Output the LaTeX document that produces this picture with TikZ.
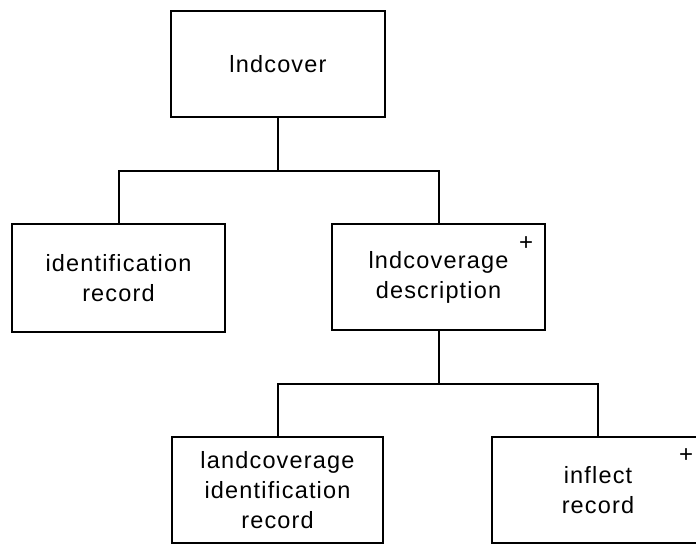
\documentclass[tikz,border=0pt]{standalone}
\usepackage{fontspec}
\setmainfont{Liberation Sans}[LetterSpace=5]
\begin{document}
\begin{tikzpicture}[x=1pt,y=-1pt,
  box/.style={draw,line width=2.2pt,minimum width=213pt,minimum height=106pt,
    inner sep=0pt,align=center,font=\fontsize{23.5}{30}\selectfont},
  link/.style={line width=2pt},
  mult/.style={font=\fontsize{24}{26}\selectfont,inner sep=0pt}]
\useasboundingbox (0,0) rectangle (696,545);
\clip (0,0) rectangle (696,545);

% tree nodes
\node[box,minimum width=214pt] (top) at (278,64) {lndcover};
\node[box,minimum height=108pt] (ident) at (118.5,278) {identification\\record};
\node[box] (desc) at (438.5,277) {lndcoverage\\description};
\node[box,minimum width=211pt] (land) at (277.5,490) {landcoverage\\identification\\record};
\node[box,minimum width=212pt] (infl) at (598,490) {inflect\\record};

% repetition marks
\node[mult] (pdesc) at ([shift={(-20,21)}]desc.north east) {+};
\node[mult] (pinfl) at ([shift={(-19,20)}]infl.north east) {+};

% junction levels
\coordinate (j1) at (278,171);
\coordinate (j2) at (438.5,384);

% connectors
\draw[link] (top.south) -- (j1);
\draw[link] (ident.north) -- (ident.north |- j1) -- (desc.north |- j1) -- (desc.north);
\draw[link] (desc.south) -- (j2);
\draw[link] (land.north) -- (land.north |- j2) -- (infl.north |- j2) -- (infl.north);
\end{tikzpicture}
\end{document}
